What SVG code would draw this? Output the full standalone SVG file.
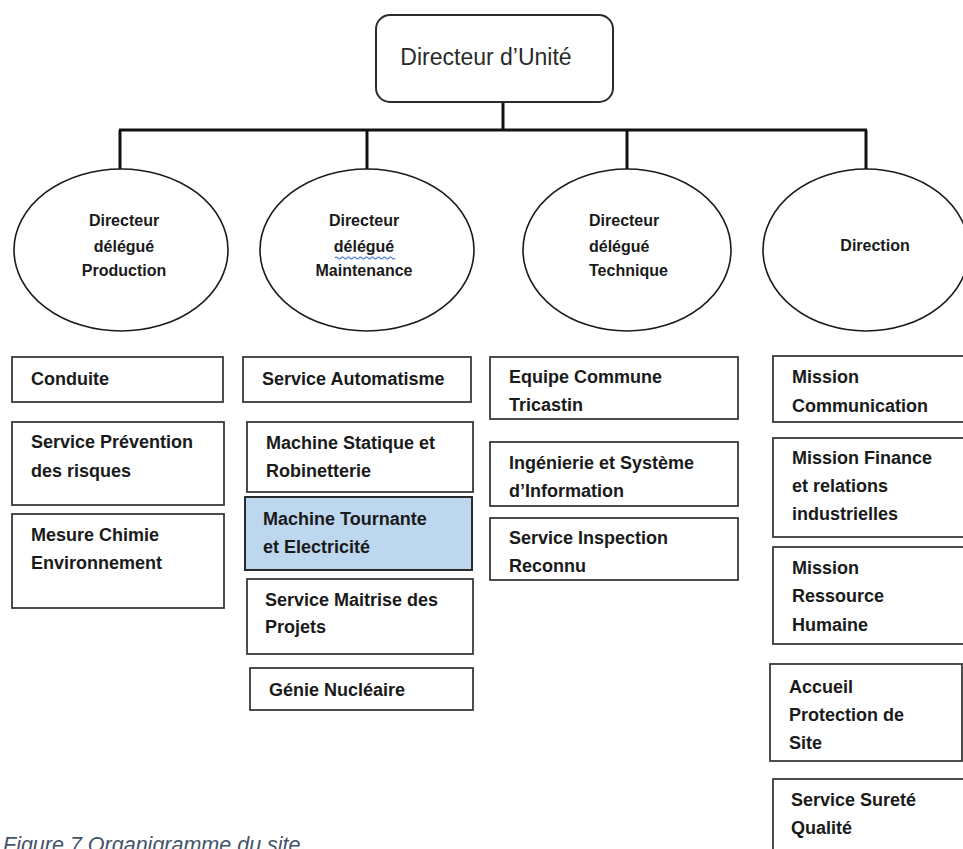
<svg xmlns="http://www.w3.org/2000/svg" width="963" height="849" viewBox="0 0 963 849">
  <style>
    .bg { fill: #ffffff; }
    .top { fill: #ffffff; stroke: #2b2b2b; stroke-width: 2; }
    .oval { fill: #ffffff; stroke: #1a1a1a; stroke-width: 1.6; }
    .box { fill: #ffffff; stroke: #3a3a3a; stroke-width: 1.8; }
    .hl { fill: #bdd7ee; stroke: #2b2b2b; stroke-width: 2; }
    .link { fill: none; stroke: #111111; stroke-width: 3; }
    .t-top { font-family: "Liberation Sans", Arial, sans-serif; font-size: 23px; fill: #2a2a2a; }
    .t-oval { font-family: "Liberation Sans", Arial, sans-serif; font-size: 16px; font-weight: bold; fill: #1a1a1a; }
    .t-box { font-family: "Liberation Sans", Arial, sans-serif; font-size: 18px; font-weight: bold; fill: #1a1a1a; }
    .caption { font-family: "Liberation Sans", Arial, sans-serif; font-size: 21.5px; font-style: italic; fill: #44546a; }
    .squiggle { fill: none; stroke: #3f6fd1; stroke-width: 1.2; }
  </style>

  <rect class="bg" x="0" y="0" width="963" height="849"/>

  <!-- connectors -->
  <g id="connectors">
    <line class="link" x1="503" y1="102" x2="503" y2="130"/>
    <line class="link" x1="119" y1="130" x2="867" y2="130"/>
    <line class="link" x1="120" y1="130" x2="120" y2="169"/>
    <line class="link" x1="367" y1="130" x2="367" y2="169"/>
    <line class="link" x1="627" y1="130" x2="627" y2="169"/>
    <line class="link" x1="866" y1="130" x2="866" y2="169"/>
  </g>

  <!-- head of unit -->
  <g id="directeur-unite">
    <rect class="top" x="376" y="15" width="237" height="87" rx="14" ry="14"/>
    <text class="t-top" x="486" y="65" text-anchor="middle">Directeur d’Unité</text>
  </g>

  <!-- deputy directors -->
  <g id="dd-production">
    <ellipse class="oval" cx="121" cy="250" rx="107" ry="81"/>
    <text class="t-oval" x="124" y="226" text-anchor="middle">Directeur</text>
    <text class="t-oval" x="124" y="252" text-anchor="middle">délégué</text>
    <text class="t-oval" x="124" y="276" text-anchor="middle">Production</text>
  </g>

  <g id="dd-maintenance">
    <ellipse class="oval" cx="367" cy="250" rx="107" ry="81"/>
    <text class="t-oval" x="364" y="226" text-anchor="middle">Directeur</text>
    <text class="t-oval" x="364" y="252" text-anchor="middle">délégué</text>
    <path class="squiggle" d="M335 258 q1.5 -2 3 0 t3 0 t3 0 t3 0 t3 0 t3 0 t3 0 t3 0 t3 0 t3 0 t3 0 t3 0 t3 0 t3 0 t3 0 t3 0 t3 0 t3 0 t3 0 t3 0"/>
    <text class="t-oval" x="364" y="276" text-anchor="middle">Maintenance</text>
  </g>

  <g id="dd-technique">
    <ellipse class="oval" cx="627" cy="250" rx="104" ry="81"/>
    <text class="t-oval" x="589" y="226">Directeur</text>
    <text class="t-oval" x="589" y="252">délégué</text>
    <text class="t-oval" x="589" y="276">Technique</text>
  </g>

  <g id="direction">
    <ellipse class="oval" cx="866" cy="250" rx="103" ry="81"/>
    <text class="t-oval" x="875" y="251" text-anchor="middle">Direction</text>
  </g>

  <!-- Production services -->
  <g id="conduite">
    <rect class="box" x="12" y="357" width="211" height="45"/>
    <text class="t-box" x="31" y="385">Conduite</text>
  </g>
  <g id="prevention-risques">
    <rect class="box" x="12" y="422" width="212" height="83"/>
    <text class="t-box" x="31" y="448">Service Prévention</text>
    <text class="t-box" x="31" y="477">des risques</text>
  </g>
  <g id="mesure-chimie">
    <rect class="box" x="12" y="514" width="212" height="94"/>
    <text class="t-box" x="31" y="541">Mesure Chimie</text>
    <text class="t-box" x="31" y="569">Environnement</text>
  </g>

  <!-- Maintenance services -->
  <g id="automatisme">
    <rect class="box" x="243" y="357" width="228" height="45"/>
    <text class="t-box" x="262" y="385">Service Automatisme</text>
  </g>
  <g id="machine-statique">
    <rect class="box" x="247" y="422" width="226" height="70"/>
    <text class="t-box" x="266" y="449">Machine Statique et</text>
    <text class="t-box" x="266" y="477">Robinetterie</text>
  </g>
  <g id="machine-tournante">
    <rect class="hl" x="245" y="497" width="227" height="73"/>
    <text class="t-box" x="263" y="525">Machine Tournante</text>
    <text class="t-box" x="263" y="553">et Electricité</text>
  </g>
  <g id="maitrise-projets">
    <rect class="box" x="247" y="579" width="226" height="75"/>
    <text class="t-box" x="265" y="606">Service Maitrise des</text>
    <text class="t-box" x="265" y="633">Projets</text>
  </g>
  <g id="genie-nucleaire">
    <rect class="box" x="250" y="668" width="223" height="42"/>
    <text class="t-box" x="269" y="696">Génie Nucléaire</text>
  </g>

  <!-- Technical services -->
  <g id="equipe-commune">
    <rect class="box" x="490" y="357" width="248" height="62"/>
    <text class="t-box" x="509" y="383">Equipe Commune</text>
    <text class="t-box" x="509" y="411">Tricastin</text>
  </g>
  <g id="ingenierie">
    <rect class="box" x="490" y="442" width="248" height="64"/>
    <text class="t-box" x="509" y="469">Ingénierie et Système</text>
    <text class="t-box" x="509" y="497">d’Information</text>
  </g>
  <g id="inspection">
    <rect class="box" x="490" y="518" width="248" height="62"/>
    <text class="t-box" x="509" y="544">Service Inspection</text>
    <text class="t-box" x="509" y="572">Reconnu</text>
  </g>

  <!-- Direction missions -->
  <g id="communication">
    <rect class="box" x="773" y="356" width="195" height="66"/>
    <text class="t-box" x="792" y="383">Mission</text>
    <text class="t-box" x="792" y="412">Communication</text>
  </g>
  <g id="finance">
    <rect class="box" x="773" y="438" width="195" height="99"/>
    <text class="t-box" x="792" y="464">Mission Finance</text>
    <text class="t-box" x="792" y="492">et relations</text>
    <text class="t-box" x="792" y="520">industrielles</text>
  </g>
  <g id="ressource-humaine">
    <rect class="box" x="773" y="547" width="195" height="97"/>
    <text class="t-box" x="792" y="574">Mission</text>
    <text class="t-box" x="792" y="602">Ressource</text>
    <text class="t-box" x="792" y="631">Humaine</text>
  </g>
  <g id="accueil-protection">
    <rect class="box" x="770" y="664" width="192" height="97"/>
    <text class="t-box" x="789" y="693">Accueil</text>
    <text class="t-box" x="789" y="721">Protection de</text>
    <text class="t-box" x="789" y="749">Site</text>
  </g>
  <g id="surete-qualite">
    <rect class="box" x="773" y="779" width="195" height="90"/>
    <text class="t-box" x="791" y="806">Service Sureté</text>
    <text class="t-box" x="791" y="834">Qualité</text>
  </g>

  <!-- figure caption, partly below the page edge -->
  <text class="caption" x="3" y="852">Figure 7 Organigramme du site</text>
</svg>
